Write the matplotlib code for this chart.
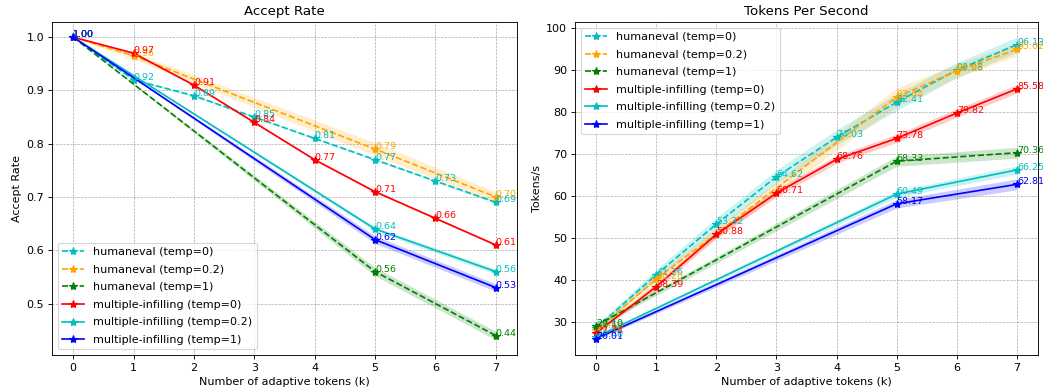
import matplotlib
matplotlib.use("Agg")
import matplotlib.pyplot as plt
import numpy as np

labels = ["humaneval (temp=0)", "humaneval (temp=0.2)", "humaneval (temp=1)",
          "multiple-infilling (temp=0)", "multiple-infilling (temp=0.2)",
          "multiple-infilling (temp=1)"]
colors = ["c", "orange", "g", "r", "c", "b"]
styles = ["--", "--", "--", "-", "-", "-"]

# Accept rate
acc_k = [
    [0, 1, 2, 3, 4, 5, 6, 7],
    [0, 1, 5, 7],
    [0, 5, 7],
    [0, 1, 2, 3, 4, 5, 6, 7],
    [0, 5, 7],
    [0, 5, 7],
]
acc_val = [
    [1.00, 0.92, 0.89, 0.85, 0.81, 0.77, 0.73, 0.69],
    [1.00, 0.965, 0.79, 0.70],
    [1.00, 0.56, 0.44],
    [1.00, 0.97, 0.91, 0.84, 0.77, 0.71, 0.66, 0.61],
    [1.00, 0.64, 0.56],
    [1.00, 0.62, 0.53],
]
acc_std = [
    [0.0, 0.002, 0.002, 0.002, 0.002, 0.002, 0.002, 0.002],
    [0.0, 0.006, 0.012, 0.010],
    [0.0, 0.008, 0.008],
    [0.0, 0.002, 0.002, 0.002, 0.002, 0.002, 0.002, 0.002],
    [0.0, 0.004, 0.005],
    [0.0, 0.007, 0.007],
]

# Tokens per second
tps_k = [
    [0, 1, 2, 3, 4, 5, 6, 7],
    [0, 1, 5, 6, 7],
    [0, 5, 7],
    [0, 1, 2, 3, 4, 5, 6, 7],
    [0, 5, 7],
    [0, 5, 7],
]
tps_val = [
    [28.5, 41.26, 53.32, 64.62, 74.03, 82.41, 90.08, 96.13],
    [28.0, 40.2, 83.64, 89.88, 95.02],
    [29.10, 68.33, 70.36],
    [27.34, 38.39, 50.88, 60.71, 68.76, 73.78, 79.82, 85.58],
    [26.4, 60.49, 66.25],
    [26.01, 58.17, 62.81],
]
tps_std = [
    [0.6, 1.2, 1.5, 1.6, 1.8, 2.0, 1.8, 1.8],
    [0.5, 1.0, 2.2, 1.6, 1.5],
    [0.5, 1.2, 1.3],
    [0.4, 0.8, 0.8, 0.9, 0.9, 1.0, 1.0, 1.0],
    [0.3, 0.8, 1.0],
    [0.3, 1.0, 1.3],
]

fig = plt.figure(figsize=(1043/80, 392/80), dpi=80)
ax1 = fig.add_axes([52/1043, 1-355/392, (517-52)/1043, (355-22)/392])
ax2 = fig.add_axes([575/1043, 1-355/392, (1038-575)/1043, (355-22)/392])


def draw(ax, ks, vals, stds, title, ylabel, loc):
    for k, v, s, lab, c, ls in zip(ks, vals, stds, labels, colors, styles):
        k = np.array(k); v = np.array(v); s = np.array(s)
        ax.plot(k, v, ls, color=c, marker="*", label=lab, lw=1.5, markersize=7.5)
        ax.fill_between(k, v - s, v + s, color=c, alpha=0.2, lw=0)
        for xi, yi in zip(k, v):
            ax.text(xi, yi, f"{yi:.2f}", color=c, fontsize=8.5)
    ax.set_title(title, fontsize=12)
    ax.set_xlabel("Number of adaptive tokens (k)")
    ax.set_ylabel(ylabel)
    ax.set_xticks(range(8))
    ax.grid(True, ls="--", color="gray", lw=0.6, alpha=0.7)
    ax.legend(loc=loc, labelspacing=0.68)


draw(ax1, acc_k, acc_val, acc_std, "Accept Rate", "Accept Rate", "lower left")
draw(ax2, tps_k, tps_val, tps_std, "Tokens Per Second", "Tokens/s", "upper left")

fig.savefig("out.png", dpi=80)
